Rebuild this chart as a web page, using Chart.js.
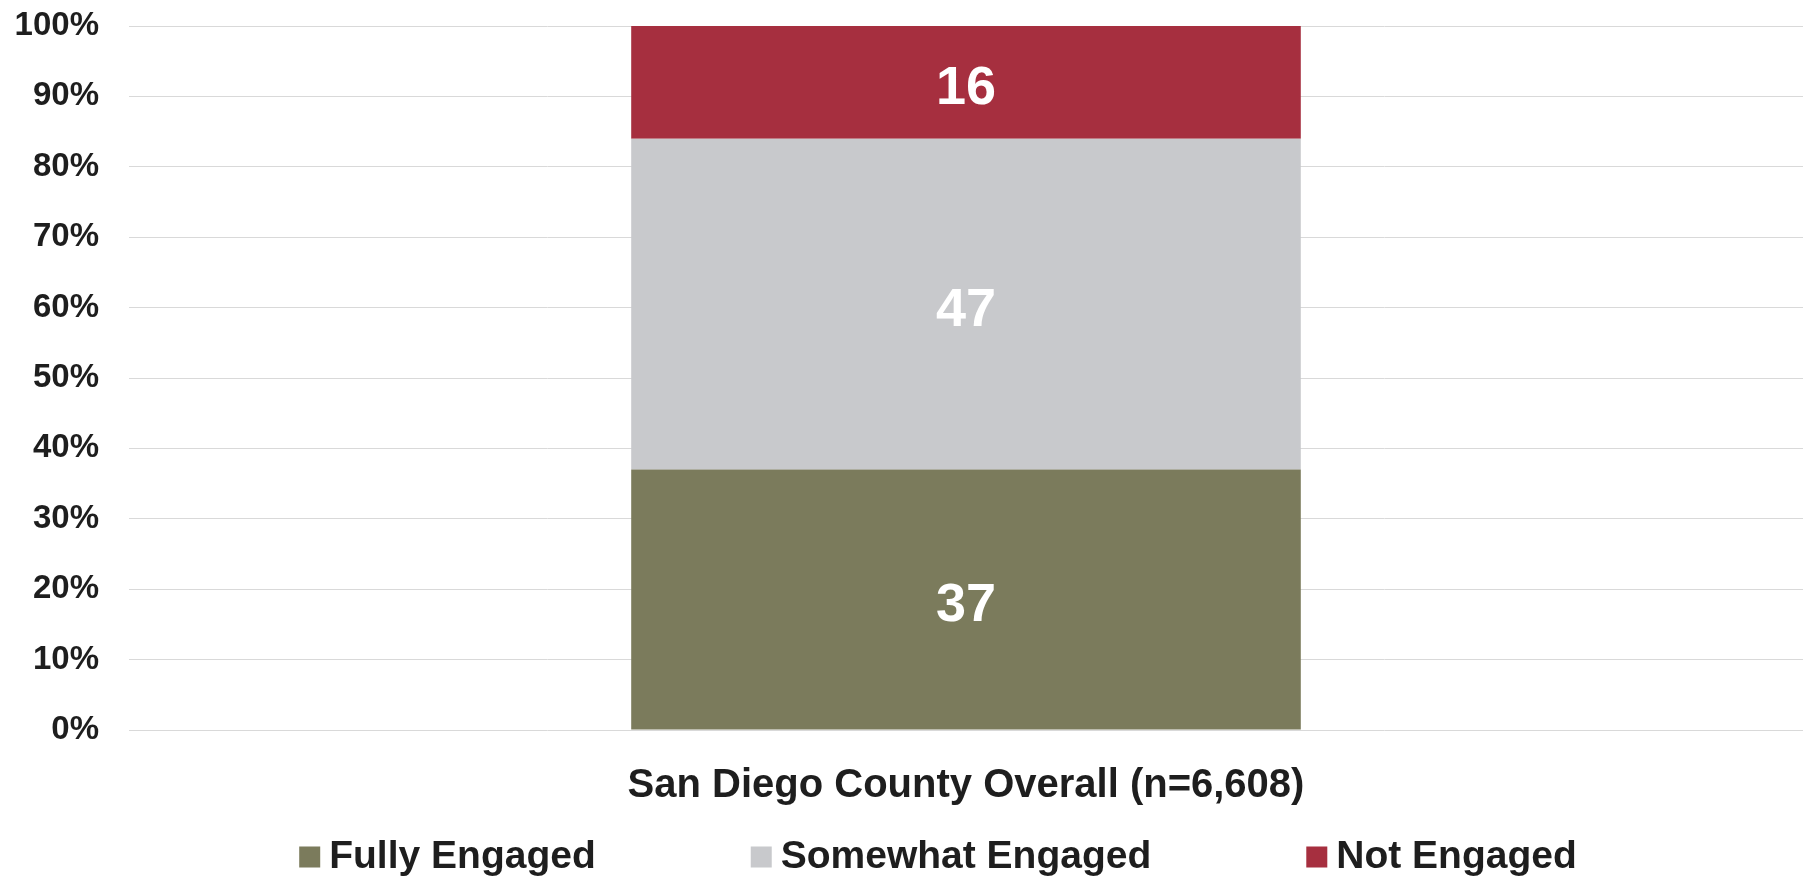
<!DOCTYPE html>
<html>
<head>
<meta charset="utf-8">
<script src="https://cdn.jsdelivr.net/npm/chart.js@4/dist/chart.umd.min.js"></script>
<style>
  html, body { margin: 0; padding: 0; background: #fff; }
  #wrap { width: 1803px; height: 878px; }
</style>
</head>
<body>
<div id="wrap"><canvas id="engagementChart" width="1803" height="878"></canvas></div>
<script>
// ─── Data ──────────────────────────────────────────────────────
const CATEGORIES = ['San Diego County Overall (n=6,608)'];
const SERIES_NAMES = ['Fully Engaged', 'Somewhat Engaged', 'Not Engaged'];
const FULLY = [37];
const SOMEWHAT = [47];
const NOT_ENGAGED = [16];

const OLIVE = '#7b7b5c';
const SILVER = '#c8c9cc';
const CRIMSON = '#a62f3f';
const FONT = '"Liberation Sans", Arial, sans-serif';

// white value inside each stacked segment
const valueLabels = {
    id: 'valueLabels',
    afterDatasetsDraw(chart) {
        const ctx = chart.ctx;
        ctx.save();
        ctx.font = `bold 54px ${FONT}`;
        ctx.fillStyle = '#ffffff';
        ctx.textAlign = 'center';
        ctx.textBaseline = 'middle';
        chart.data.datasets.forEach((ds, i) => {
            chart.getDatasetMeta(i).data.forEach((bar, j) => {
                const { x, y, base } = bar.getProps(['x', 'y', 'base'], true);
                ctx.fillText(String(ds.data[j]), x, (y + base) / 2 + 7);
            });
        });
        ctx.restore();
    },
};

// single-row legend with wide spacing, drawn under the axis label
const bottomLegend = {
    id: 'bottomLegend',
    afterDraw(chart, args, opts) {
        const ctx = chart.ctx;
        ctx.save();
        ctx.font = `bold ${opts.size}px ${FONT}`;
        ctx.textBaseline = 'middle';
        const items = chart.data.datasets.map((ds) => ({
            text: ds.label,
            color: ds.backgroundColor,
            w: ctx.measureText(ds.label).width,
        }));
        const total = items.reduce((s, it) => s + opts.box + opts.gap + it.w, 0) + opts.spacing * (items.length - 1);
        let x = opts.centerX - total / 2;
        const y = chart.height - opts.fromBottom;
        items.forEach((it) => {
            ctx.fillStyle = it.color;
            ctx.fillRect(x, y - opts.box / 2, opts.box, opts.box);
            x += opts.box + opts.gap;
            ctx.fillStyle = '#1e1e1e';
            ctx.fillText(it.text, x, y);
            x += it.w + opts.spacing;
        });
        ctx.restore();
    },
};

new Chart(document.getElementById('engagementChart'), {
    type: 'bar',
    data: {
        labels: CATEGORIES,
        datasets: [
            { label: SERIES_NAMES[0], data: FULLY, backgroundColor: OLIVE },
            { label: SERIES_NAMES[1], data: SOMEWHAT, backgroundColor: SILVER },
            { label: SERIES_NAMES[2], data: NOT_ENGAGED, backgroundColor: CRIMSON },
        ],
    },
    options: {
        responsive: false,
        animation: false,
        layout: { padding: { top: 26, right: 0, bottom: 44, left: 0 } },
        datasets: { bar: { barPercentage: 0.4, categoryPercentage: 1 } },
        plugins: {
            legend: { display: false },
            tooltip: { enabled: false },
            bottomLegend: { size: 39, box: 21, gap: 9, spacing: 155, centerX: 938, fromBottom: 21 },
        },
        scales: {
            x: {
                stacked: true,
                grid: { display: false },
                border: { display: false },
                ticks: { color: '#1e1e1e', font: { family: FONT, size: 40, weight: 'bold' }, padding: 24 },
            },
            y: {
                stacked: true,
                min: 0,
                max: 100,
                afterFit: (scale) => {
                    scale.width = 129;
                    scale.paddingTop = 0;
                    scale.paddingBottom = 0;
                },
                grid: { color: '#d9d9d9', lineWidth: 1, drawTicks: false },
                border: { display: false },
                ticks: {
                    stepSize: 10,
                    padding: 30,
                    color: '#1e1e1e',
                    font: { family: FONT, size: 33, weight: 'bold' },
                    callback: (v) => `${v}%`,
                },
            },
        },
    },
    plugins: [valueLabels, bottomLegend],
});
</script>
</body>
</html>
